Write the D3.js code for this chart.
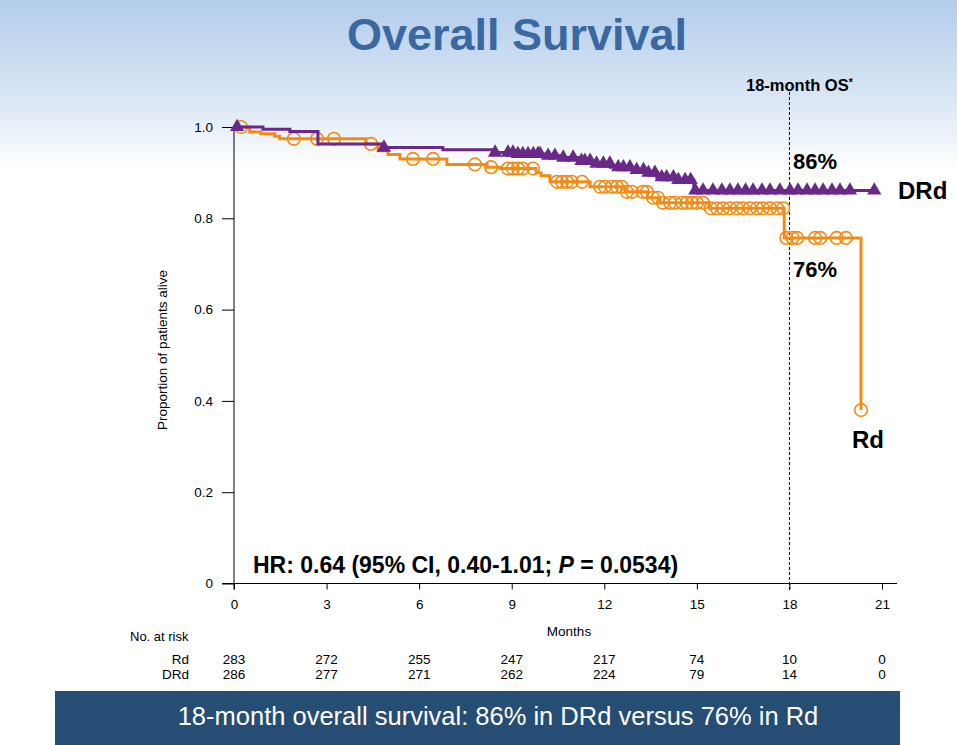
<!DOCTYPE html>
<html>
<head>
<meta charset="utf-8">
<script src="https://cdn.jsdelivr.net/npm/d3@7"></script>
<style>
  html, body { margin: 0; padding: 0; background: #ffffff; }
  svg { display: block; font-family: "Liberation Sans", Arial, sans-serif; }
</style>
</head>
<body>
<svg id="chart" width="957" height="745"></svg>
<script>
// ---------------- DATA ----------------
const xTicks = [0, 3, 6, 9, 12, 15, 18, 21];
const yTicks = [0, 0.2, 0.4, 0.6, 0.8, 1.0];
const yTickLabels = ["0", "0.2", "0.4", "0.6", "0.8", "1.0"];

// DRd (purple) Kaplan-Meier steps: time (months) and survival after the step
const drdStepTimes = [0, 0.94, 1.81, 2.72, 4.86, 6.77, 8.45, 9.1, 10.1, 10.6, 11.2, 11.7, 12.2, 12.9, 13.4, 13.7, 14.3, 14.9];
const drdStepSurv  = [1.0, 0.995, 0.990, 0.963, 0.955, 0.950, 0.944, 0.941, 0.937, 0.933, 0.926, 0.920, 0.912, 0.906, 0.900, 0.890, 0.884, 0.861];
const drdEnd = 20.75;
const drdCensor = [0.1, 4.86, 8.46, 8.88, 9.04, 9.2, 9.36, 9.53, 9.7, 9.85, 9.92, 10.18, 10.4, 10.67, 10.99, 11.26, 11.37,
  11.54, 11.75, 11.97, 12.18, 12.45, 12.62, 12.83, 13.05, 13.27, 13.43, 13.64, 13.86, 14.02, 14.24, 14.4, 14.62, 14.8,
  14.95, 15.2, 15.52, 15.81, 16.07, 16.33, 16.58, 16.82, 17.11, 17.37, 17.69, 18.02, 18.28, 18.57, 18.83, 19.09, 19.38,
  19.64, 19.96, 20.75];

// Rd (orange) Kaplan-Meier steps
const rdStepTimes = [0, 0.51, 0.87, 1.32, 1.48, 4.28, 4.67, 4.99, 5.38, 6.9, 8.2, 8.62, 9.79, 9.95, 10.24, 11.54, 12.67, 13.4, 13.8, 15.4, 17.83, 20.32];
const rdStepSurv  = [1.0, 0.989, 0.985, 0.980, 0.974, 0.963, 0.948, 0.940, 0.930, 0.918, 0.912, 0.909, 0.900, 0.893, 0.880, 0.869, 0.858, 0.845, 0.834, 0.822, 0.757, 0.380];
const rdEnd = 20.32;
const rdCensor = [0.23, 1.94, 2.69, 3.24, 4.44, 5.8, 6.45, 7.81, 8.33, 8.88, 9.04, 9.2, 9.36, 9.69, 10.47, 10.63, 10.79,
  10.95, 11.28, 11.86, 12.02, 12.25, 12.41, 12.57, 12.73, 12.9, 13.25, 13.38, 13.58, 13.74, 13.9, 14.13, 14.29, 14.52,
  14.68, 14.84, 15.0, 15.2, 15.45, 15.65, 15.85, 16.07, 16.3, 16.49, 16.72, 16.95, 17.14, 17.37, 17.6, 17.8,
  17.9, 18.1, 18.25, 18.83, 19.0, 19.53, 19.83, 20.32];

const riskGroups = ["Rd", "DRd"];
const riskRd  = [283, 272, 255, 247, 217, 74, 10, 0];
const riskDRd = [286, 277, 271, 262, 224, 79, 14, 0];

const titleText = "Overall Survival";
const hrText = ["HR: 0.64 (95% CI, 0.40-1.01; ", "P", " = 0.0534)"];
const bannerText = "18-month overall survival: 86% in DRd versus 76% in Rd";

// ---------------- DRAW ----------------
const svg = d3.select("#chart");
const W = 957, H = 745;
const PURPLE = "#6a2888", ORANGE = "#f28a14";

const defs = svg.append("defs");
const grad = defs.append("linearGradient").attr("id", "bg").attr("x1", 0).attr("x2", 0).attr("y1", 0)
  .attr("gradientUnits", "userSpaceOnUse").attr("y2", 170);
grad.append("stop").attr("offset", 0).attr("stop-color", "#b2cdeb");
grad.append("stop").attr("offset", 0.6).attr("stop-color", "#dce7f5");
grad.append("stop").attr("offset", 1).attr("stop-color", "#ffffff");
svg.append("rect").attr("width", W).attr("height", H).attr("fill", "url(#bg)");

svg.append("text").attr("x", 517).attr("y", 50).attr("text-anchor", "middle")
  .attr("font-size", 45).attr("font-weight", "bold").attr("fill", "#3a68a0").text(titleText);

const x = d3.scaleLinear().domain([0, 21]).range([234, 882]);
const y = d3.scaleLinear().domain([0, 1]).range([583.5, 127]);

// axes
const xAxis = svg.append("g").attr("transform", `translate(0,${y(0)})`)
  .call(d3.axisBottom(x).tickValues(xTicks).tickSize(6).tickPadding(10).tickSizeOuter(0));
xAxis.select(".domain").remove();
xAxis.append("line").attr("x1", 222).attr("x2", 897).attr("stroke", "#000");
xAxis.selectAll("text").attr("font-size", 13.5).attr("fill", "#000").attr("font-family", "Liberation Sans, Arial, sans-serif");

const yAxis = svg.append("g").attr("transform", `translate(${x(0)},0)`)
  .call(d3.axisLeft(y).tickValues(yTicks).tickFormat((d, i) => yTickLabels[i]).tickSize(12).tickPadding(9).tickSizeOuter(0));
yAxis.select(".domain").remove();
yAxis.append("line").attr("y1", y(1)).attr("y2", y(0) + 6).attr("stroke", "#000");
yAxis.selectAll("text").attr("font-size", 13.5).attr("fill", "#000").attr("font-family", "Liberation Sans, Arial, sans-serif");

svg.append("text").attr("transform", `translate(167,350) rotate(-90)`).attr("text-anchor", "middle")
  .attr("font-size", 13.5).attr("fill", "#000").text("Proportion of patients alive");
svg.append("text").attr("x", 569).attr("y", 636).attr("text-anchor", "middle")
  .attr("font-size", 13.5).attr("fill", "#000").text("Months");

// 18-month reference
svg.append("line").attr("x1", x(18)).attr("x2", x(18)).attr("y1", 92).attr("y2", y(0) + 8)
  .attr("stroke", "#000").attr("stroke-width", 1).attr("stroke-dasharray", "3,2");
const os = svg.append("text").attr("x", 746).attr("y", 91).attr("font-size", 16.5).attr("font-weight", "bold").attr("fill", "#000");
os.append("tspan").text("18-month OS");
os.append("tspan").attr("font-size", 10.5).attr("dy", -5).text("*");

// curves
function stepPoints(times, surv, end) {
  const pts = times.map((t, i) => [t, surv[i]]);
  pts.push([end, surv[surv.length - 1]]);
  return pts;
}
function survAt(times, surv, t) {
  let v = surv[0];
  for (let i = 0; i < times.length; i++) if (times[i] <= t) v = surv[i];
  return v;
}
const line = d3.line().x(d => x(d[0])).y(d => y(d[1])).curve(d3.curveStepAfter);

svg.append("path").datum(stepPoints(rdStepTimes, rdStepSurv, rdEnd)).attr("d", line)
  .attr("fill", "none").attr("stroke", ORANGE).attr("stroke-width", 3);
svg.append("g").selectAll("circle").data(rdCensor).join("circle")
  .attr("cx", d => x(d)).attr("cy", d => y(survAt(rdStepTimes, rdStepSurv, d)))
  .attr("r", 6.3).attr("fill", "none").attr("stroke", ORANGE).attr("stroke-width", 1.6);

svg.append("path").datum(stepPoints(drdStepTimes, drdStepSurv, drdEnd)).attr("d", line)
  .attr("fill", "none").attr("stroke", PURPLE).attr("stroke-width", 3);
const tri = d3.symbol().type(d3.symbolTriangle).size(88);
svg.append("g").selectAll("path").data(drdCensor).join("path")
  .attr("transform", d => `translate(${x(d)},${y(survAt(drdStepTimes, drdStepSurv, d))})`)
  .attr("d", tri).attr("fill", PURPLE);

// annotations
svg.append("text").attr("x", 793).attr("y", 169).attr("font-size", 22).attr("font-weight", "bold").attr("fill", "#000").text("86%");
svg.append("text").attr("x", 793).attr("y", 277).attr("font-size", 22).attr("font-weight", "bold").attr("fill", "#000").text("76%");
svg.append("text").attr("x", 898).attr("y", 199).attr("font-size", 24).attr("font-weight", "bold").attr("fill", "#000").text("DRd");
svg.append("text").attr("x", 852).attr("y", 448).attr("font-size", 24).attr("font-weight", "bold").attr("fill", "#000").text("Rd");

const hr = svg.append("text").attr("x", 253).attr("y", 573).attr("font-size", 23).attr("font-weight", "bold").attr("fill", "#000");
hr.append("tspan").text(hrText[0]);
hr.append("tspan").attr("font-style", "italic").text(hrText[1]);
hr.append("tspan").text(hrText[2]);

// number at risk
svg.append("text").attr("x", 130).attr("y", 641).attr("font-size", 13).attr("fill", "#000").text("No. at risk");
const riskRows = [riskRd, riskDRd];
const rowY = [664, 679];
riskGroups.forEach((g, i) => {
  svg.append("text").attr("x", 189).attr("y", rowY[i]).attr("text-anchor", "end").attr("font-size", 13.5).attr("fill", "#000").text(g);
  svg.append("g").selectAll("text").data(riskRows[i]).join("text")
    .attr("x", (d, j) => x(xTicks[j])).attr("y", rowY[i]).attr("text-anchor", "middle")
    .attr("font-size", 13.5).attr("fill", "#000").text(d => d);
});

// banner
svg.append("rect").attr("x", 55).attr("y", 691).attr("width", 845).attr("height", 54).attr("fill", "#264d73");
svg.append("text").attr("x", 498).attr("y", 725).attr("text-anchor", "middle").attr("font-size", 25.5)
  .attr("fill", "#ffffff").text(bannerText);
</script>
</body>
</html>
